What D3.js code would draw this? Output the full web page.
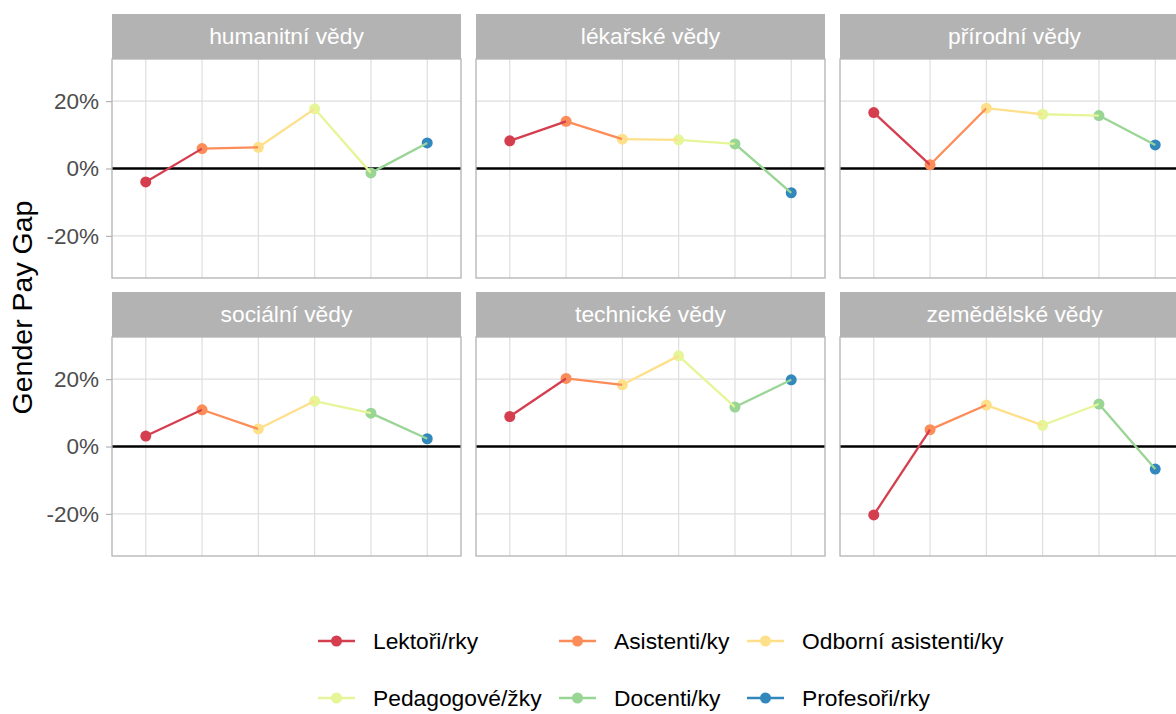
<!DOCTYPE html>
<html>
<head>
<meta charset="utf-8">
<script src="https://cdn.jsdelivr.net/npm/d3@7"></script>
<style>
  body { margin: 0; background: #fff; }
  svg { display: block; font-family: "Liberation Sans", Arial, sans-serif; }
</style>
</head>
<body>
<svg id="chart" width="1176" height="714"></svg>
<script>
// Gender pay gap by field and academic position
const fields = ["humanitní vědy", "lékařské vědy", "přírodní vědy",
                "sociální vědy", "technické vědy", "zemědělské vědy"];
const positions = ["Lektoři/rky", "Asistenti/ky", "Odborní asistenti/ky",
                   "Pedagogové/žky", "Docenti/ky", "Profesoři/rky"];
const colors = ["#D53E4F", "#FC8D59", "#FEE08B", "#E6F598", "#99D594", "#3288BD"];

// values in % (one list per field, in the order of positions)
const gapHumanitni  = [-4.0, 5.9, 6.3, 17.7, -1.3, 7.6];
const gapLekarske   = [8.2, 14.0, 8.7, 8.5, 7.3, -7.2];
const gapPrirodni   = [16.6, 1.1, 17.9, 16.1, 15.7, 7.0];
const gapSocialni   = [3.1, 10.9, 5.2, 13.5, 9.9, 2.3];
const gapTechnicke  = [8.9, 20.2, 18.3, 26.9, 11.7, 19.8];
const gapZemedelske = [-20.3, 5.0, 12.3, 6.3, 12.6, -6.7];
const yTicks = [-20, 0, 20];

const series = [gapHumanitni, gapLekarske, gapPrirodni, gapSocialni, gapTechnicke, gapZemedelske];

const svg = d3.select("#chart");

const colX = [112, 476, 840];
const rowY = [14, 292];
const panelW = 349;
const stripH = 45;
const panelH = 219;

const x = d3.scalePoint()
            .domain(positions)
            .range([0, panelW])
            .padding(0.6);
const y = d3.scaleLinear()
            .domain([-32.5, 32.5])
            .range([panelH, 0]);
const color = d3.scaleOrdinal(positions, colors);

const line = d3.line()
               .x(d => x(d.pos))
               .y(d => y(d.value));

fields.forEach((field, i) => {
  const col = i % 3, row = Math.floor(i / 3);
  const data = positions.map((p, j) => ({pos: p, value: series[i][j]}));

  const g = svg.append("g")
               .attr("transform", `translate(${colX[col]},${rowY[row]})`);

  // strip
  g.append("rect")
   .attr("width", panelW)
   .attr("height", stripH)
   .attr("fill", "#B3B3B3");
  g.append("text")
   .attr("x", panelW / 2)
   .attr("y", stripH / 2)
   .attr("dy", "0.35em")
   .attr("text-anchor", "middle")
   .attr("fill", "#fff")
   .style("font-size", "22.8px")
   .text(field);

  const p = g.append("g").attr("transform", `translate(0,${stripH})`);

  // grid
  p.append("g")
   .selectAll("line.h")
   .data(yTicks)
   .join("line")
   .attr("x1", 0).attr("x2", panelW)
   .attr("y1", d => y(d)).attr("y2", d => y(d))
   .attr("stroke", "#DEDEDE")
   .attr("stroke-width", 1.2);
  p.append("g")
   .selectAll("line.v")
   .data(positions)
   .join("line")
   .attr("x1", d => x(d)).attr("x2", d => x(d))
   .attr("y1", 0).attr("y2", panelH)
   .attr("stroke", "#DEDEDE")
   .attr("stroke-width", 1.2);

  // zero line
  p.append("line")
   .attr("x1", 0).attr("x2", panelW)
   .attr("y1", y(0)).attr("y2", y(0))
   .attr("stroke", "#000")
   .attr("stroke-width", 2.5);

  p.append("g")
   .selectAll("circle")
   .data(data)
   .join("circle")
   .attr("cx", d => x(d.pos))
   .attr("cy", d => y(d.value))
   .attr("r", 5.5)
   .attr("fill", d => color(d.pos));

  // each segment takes the colour of its starting point
  p.append("g")
   .selectAll("path")
   .data(d3.pairs(data))
   .join("path")
   .attr("d", d => line(d))
   .attr("fill", "none")
   .attr("stroke", d => color(d[0].pos))
   .attr("stroke-width", 2.3);

  p.append("rect")
   .attr("width", panelW)
   .attr("height", panelH)
   .attr("fill", "none")
   .attr("stroke", "#B3B3B3")
   .attr("stroke-width", 1.3);

  if (col === 0) {
    const ax = p.append("g")
                .call(d3.axisLeft(y)
                        .tickValues(yTicks)
                        .tickSize(6)
                        .tickPadding(7)
                        .tickFormat(d => d + "%"));
    ax.select(".domain").remove();
    ax.selectAll(".tick line").attr("stroke", "#B3B3B3").attr("stroke-width", 1.2);
    ax.selectAll(".tick text")
      .attr("fill", "#4D4D4D")
      .style("font-size", "22.5px")
      .style("font-family", "'Liberation Sans', Arial, sans-serif");
  }
});

// y title
svg.append("text")
   .attr("transform", `translate(32,${(rowY[0] + stripH + rowY[1] + stripH + panelH) / 2}) rotate(-90)`)
   .attr("text-anchor", "middle")
   .style("font-size", "28.5px")
   .attr("fill", "#000")
   .text("Gender Pay Gap");

// legend
const legCols = [318, 559, 747];
const legRows = [641, 698];
const legend = svg.append("g")
                  .selectAll("g")
                  .data(positions)
                  .join("g")
                  .attr("transform", (d, i) => `translate(${legCols[i % 3]},${legRows[Math.floor(i / 3)]})`);
legend.append("line")
      .attr("x1", 0).attr("x2", 37)
      .attr("stroke", d => color(d))
      .attr("stroke-width", 2.3);
legend.append("circle")
      .attr("cx", 18.5)
      .attr("r", 5.5)
      .attr("fill", d => color(d));
legend.append("text")
      .attr("x", 55)
      .attr("dy", "0.35em")
      .style("font-size", "22.8px")
      .attr("fill", "#000")
      .text(d => d);
</script>
</body>
</html>
